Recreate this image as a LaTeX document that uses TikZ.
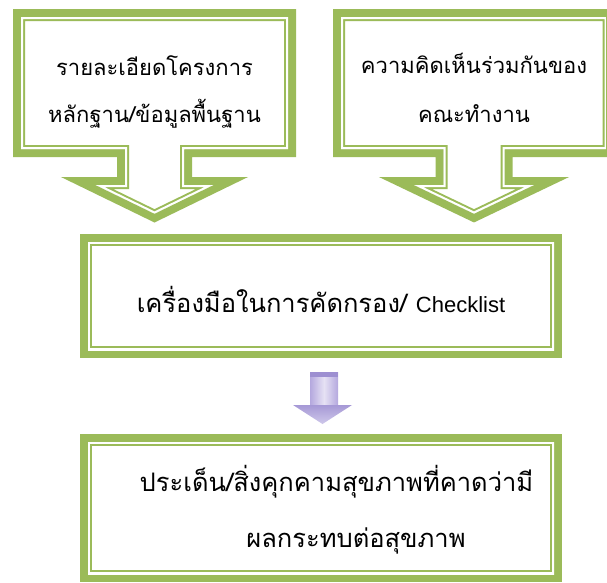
\documentclass[tikz,border=0pt]{standalone}
\usepackage{fontspec}
\newfontfamily\thaifont[Script=Thai]{Loma}
\newfontfamily\latinfont{Liberation Sans}
\definecolor{ogreen}{HTML}{9BBB59}
\definecolor{lavtop}{HTML}{9D8FD1}
\definecolor{lavmid}{HTML}{E6E1F4}
\definecolor{lavside}{HTML}{B4A8DE}
\definecolor{lavhead}{HTML}{A699D6}
\definecolor{lavtip}{HTML}{CFC8EA}
\newcommand\gframe[1]{%
  \draw[line width=16pt, draw=ogreen, line join=miter, miter limit=20] #1;
  \begin{scope}
    \clip #1;
    \fill[white] #1;
    \draw[ogreen, line width=8pt, line join=miter] #1;
    \draw[white, line width=4pt, line join=miter] #1;
  \end{scope}}
\tikzset{
  txt/.style={font=\thaifont\fontsize{22}{26}\selectfont, inner sep=0pt, anchor=base, text=black},
  bigtxt/.style={txt, font=\thaifont\fontsize{25.5}{30}\selectfont}
}
\begin{document}
\begin{tikzpicture}[x=1pt,y=-1pt]
\useasboundingbox (0,0) rectangle (607,582);
\clip (0,0) rectangle (607,582);
% left callout
\gframe{(21,17) -- (288,17) -- (288,149) -- (184,149) -- (184,185) -- (213.3,185) -- (154.5,213.6) -- (95.7,185) -- (125,185) -- (125,149) -- (21,149) -- cycle}
% right callout
\gframe{(341,17) -- (606.5,17) -- (606.5,149) -- (504.5,149) -- (504.5,185) -- (533.8,185) -- (474,213.6) -- (414.2,185) -- (443.5,185) -- (443.5,149) -- (341,149) -- cycle}
% middle box
\gframe{(88,242) -- (554,242) -- (554,350) -- (88,350) -- cycle}
% bottom box
\gframe{(88,442) -- (554,442) -- (554,574) -- (88,574) -- cycle}
% small arrow
\shade[left color=lavside, right color=lavside, middle color=lavmid] (310,372) rectangle (338,406);
\fill[lavtop] (310,372) rectangle (338,377);
\shade[top color=lavhead, bottom color=lavtip] (293,405) -- (352,405) -- (322.5,424) -- cycle;
% texts
\node[txt] (l1) at (154.5,75) {รายละเอียดโครงการ};
\node[txt] (l2) at (154.5,122) {หลักฐาน/ข้อมูลพื้นฐาน};
\node[txt] (r1) at (474,73) {ความคิดเห็นร่วมกันของ};
\node[txt] (r2) at (474,122) {คณะทำงาน};
\node[bigtxt] (m1) at (321,312) {เครื่องมือในการคัดกรอง/ {\latinfont\fontsize{22}{26}\selectfont Checklist}};
\node[bigtxt] (b1) at (336.5,491) {ประเด็น/สิ่งคุกคามสุขภาพที่คาดว่ามี};
\node[bigtxt] (b2) at (356,547) {ผลกระทบต่อสุขภาพ};
\end{tikzpicture}
\end{document}
